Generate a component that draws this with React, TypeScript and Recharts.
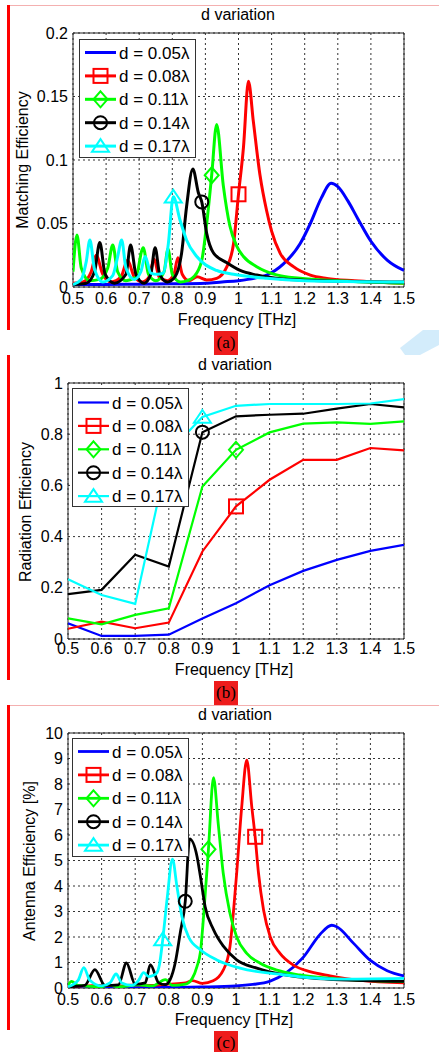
import React from 'react';
import { CartesianGrid, Legend, Line, LineChart, ReferenceArea, XAxis, YAxis } from 'recharts';

type Pt = [number, number];

const FONT = '"Liberation Sans", Arial, sans-serif';

const freqTicks = [0.5, 0.6, 0.7, 0.8, 0.9, 1.0, 1.1, 1.2, 1.3, 1.4, 1.5];
const seriesNames = ['d = 0.05λ', 'd = 0.08λ', 'd = 0.11λ', 'd = 0.14λ', 'd = 0.17λ'];
const seriesColors = ['#0000ff', '#ff0000', '#00ff00', '#000000', '#00ffff'];
const seriesShapes = ['none', 'square', 'diamond', 'circle', 'triangle'];

// (a) matching efficiency
const matchTicks = [0, 0.05, 0.1, 0.15, 0.2];
const match005: Pt[] = [[0.5,0.002],[0.6,0.002],[0.7,0.0022],[0.8,0.0025],[0.9,0.003],[0.95,0.004],[1.0,0.005],[1.05,0.007],[1.085,0.0094],[1.135,0.018],[1.186,0.034],[1.217,0.05],[1.25,0.07],[1.28,0.0816],[1.3,0.079],[1.33,0.068],[1.36,0.054],[1.4,0.036],[1.45,0.021],[1.5,0.013]];
const match008: Pt[] = [[0.5,0.003],[0.53,0.004],[0.555,0.012],[0.57,0.025],[0.59,0.01],[0.615,0.004],[0.645,0.008],[0.665,0.021],[0.685,0.008],[0.71,0.004],[0.73,0.008],[0.745,0.022],[0.76,0.008],[0.785,0.005],[0.805,0.01],[0.817,0.023],[0.83,0.01],[0.85,0.005],[0.875,0.008],[0.904,0.0055],[0.934,0.0068],[0.965,0.016],[0.985,0.034],[1.0,0.073],[1.015,0.11],[1.03,0.162],[1.045,0.13],[1.065,0.088],[1.085,0.06],[1.1,0.044],[1.126,0.0265],[1.166,0.016],[1.217,0.0094],[1.267,0.0068],[1.35,0.005],[1.5,0.003]];
const match011: Pt[] = [[0.5,0.012],[0.512,0.041],[0.525,0.015],[0.55,0.005],[0.58,0.006],[0.605,0.015],[0.62,0.033],[0.635,0.012],[0.66,0.005],[0.69,0.008],[0.712,0.031],[0.728,0.01],[0.75,0.005],[0.775,0.012],[0.787,0.03],[0.8,0.01],[0.825,0.004],[0.845,0.005],[0.865,0.008],[0.889,0.021],[0.904,0.05],[0.919,0.088],[0.934,0.128],[0.954,0.08],[0.974,0.048],[0.995,0.032],[1.015,0.024],[1.055,0.016],[1.115,0.0095],[1.186,0.0068],[1.3,0.005],[1.5,0.003]];
const match014: Pt[] = [[0.5,0.002],[0.54,0.003],[0.565,0.012],[0.581,0.035],[0.597,0.01],[0.625,0.003],[0.66,0.01],[0.674,0.033],[0.69,0.01],[0.715,0.003],[0.735,0.01],[0.748,0.031],[0.762,0.01],[0.785,0.004],[0.808,0.008],[0.828,0.0265],[0.843,0.063],[0.862,0.093],[0.879,0.074],[0.889,0.067],[0.904,0.042],[0.924,0.027],[0.965,0.019],[1.005,0.013],[1.055,0.0094],[1.135,0.0063],[1.25,0.005],[1.5,0.004]];
const match017: Pt[] = [[0.5,0.002],[0.525,0.006],[0.54,0.02],[0.551,0.037],[0.565,0.014],[0.59,0.004],[0.62,0.009],[0.635,0.024],[0.647,0.037],[0.66,0.015],[0.685,0.006],[0.705,0.012],[0.718,0.024],[0.735,0.011],[0.755,0.01],[0.773,0.011],[0.788,0.034],[0.803,0.071],[0.823,0.053],[0.843,0.037],[0.874,0.024],[0.934,0.013],[0.985,0.01],[1.085,0.0068],[1.2,0.005],[1.5,0.004]];
const matchMarks = [null, 1.0, 0.919, 0.889, 0.803];

// (b) radiation efficiency
const radTicks = [0, 0.2, 0.4, 0.6, 0.8, 1];
const radFreq = [0.5, 0.6, 0.7, 0.8, 0.9, 1.0, 1.1, 1.2, 1.3, 1.4, 1.5];
const rad005 = [0.061, 0.012, 0.012, 0.017, 0.08, 0.14, 0.21, 0.266, 0.309, 0.344, 0.368];
const rad008 = [0.04, 0.068, 0.042, 0.064, 0.342, 0.518, 0.622, 0.7, 0.7, 0.746, 0.737];
const rad011 = [0.081, 0.057, 0.094, 0.12, 0.596, 0.739, 0.807, 0.841, 0.846, 0.84, 0.85];
const rad014 = [0.175, 0.192, 0.329, 0.283, 0.808, 0.87, 0.876, 0.88, 0.9, 0.918, 0.905];
const rad017 = [0.233, 0.172, 0.137, 0.73, 0.867, 0.911, 0.918, 0.918, 0.918, 0.92, 0.937];
const radMarks = [null, 1.0, 1.0, 0.9, 0.9];

// (c) antenna efficiency [%]
const antTicks = [0, 1, 2, 3, 4, 5, 6, 7, 8, 9, 10];
const ant005: Pt[] = [[0.5,0.02],[0.6,0.02],[0.7,0.02],[0.8,0.025],[0.9,0.04],[1.0,0.08],[1.05,0.14],[1.1,0.26],[1.15,0.6],[1.2,1.2],[1.25,2.1],[1.285,2.46],[1.3,2.4],[1.35,1.75],[1.4,1.08],[1.45,0.68],[1.5,0.47]];
const ant008: Pt[] = [[0.5,0.05],[0.55,0.08],[0.6,0.1],[0.65,0.08],[0.7,0.12],[0.75,0.1],[0.8,0.15],[0.85,0.2],[0.87,0.29],[0.9,0.18],[0.932,0.28],[0.962,0.7],[0.982,1.62],[0.992,2.93],[1.002,4.5],[1.017,7.1],[1.032,8.94],[1.047,7.1],[1.057,5.93],[1.067,4.5],[1.082,3.06],[1.102,2.0],[1.131,1.36],[1.171,0.9],[1.22,0.64],[1.28,0.48],[1.37,0.3],[1.5,0.2]];
const ant011: Pt[] = [[0.5,0.1],[0.51,0.26],[0.53,0.1],[0.6,0.05],[0.62,0.12],[0.65,0.05],[0.71,0.12],[0.75,0.08],[0.79,0.33],[0.81,0.1],[0.85,0.15],[0.87,0.38],[0.884,0.85],[0.894,1.4],[0.904,2.9],[0.918,5.44],[0.933,8.25],[0.947,6.46],[0.962,4.5],[0.982,2.93],[1.002,2.0],[1.032,1.36],[1.072,0.97],[1.122,0.7],[1.19,0.51],[1.28,0.38],[1.5,0.25]];
const ant014: Pt[] = [[0.5,0.05],[0.55,0.1],[0.58,0.72],[0.61,0.1],[0.65,0.12],[0.674,0.98],[0.7,0.15],[0.73,0.2],[0.745,0.92],[0.77,0.2],[0.789,0.13],[0.804,0.33],[0.819,0.98],[0.834,2.16],[0.849,3.4],[0.862,5.85],[0.884,5.16],[0.894,4.38],[0.908,3.2],[0.933,2.29],[0.963,1.63],[1.002,1.1],[1.062,0.78],[1.141,0.52],[1.29,0.33],[1.5,0.26]];
const ant017: Pt[] = [[0.5,0.05],[0.53,0.3],[0.547,0.8],[0.565,0.3],[0.6,0.08],[0.625,0.2],[0.643,0.55],[0.66,0.2],[0.69,0.1],[0.71,0.3],[0.725,0.6],[0.74,0.45],[0.755,0.5],[0.765,0.6],[0.772,0.9],[0.782,1.9],[0.795,3.5],[0.811,5.05],[0.824,4.0],[0.839,2.8],[0.859,2.0],[0.894,1.5],[0.943,1.1],[1.012,0.78],[1.14,0.52],[1.3,0.35],[1.5,0.38]];
const antMarks = [null, 1.057, 0.918, 0.849, 0.782];

const toRows = (pts: Pt[]) => pts.map(([f, v]) => ({ f, v }));
const zipRows = (vals: number[]) => vals.map((v, i) => ({ f: radFreq[i], v }));

function Marker({ shape, x, y, color, size }: { shape: string; x: number; y: number; color: string; size: number }) {
  const s = size / 2;
  const common = { fill: 'none', stroke: color, strokeWidth: 2 };
  if (shape === 'square') return <rect x={x - s} y={y - s} width={size} height={size} {...common} />;
  if (shape === 'diamond') return <polygon points={`${x},${y - s - 1} ${x + s},${y} ${x},${y + s + 1} ${x - s},${y}`} {...common} />;
  if (shape === 'circle') return <circle cx={x} cy={y} r={s - 0.5} {...common} />;
  if (shape === 'triangle') return <polygon points={`${x},${y - s} ${x + s + 1.5},${y + s * 0.8} ${x - s - 1.5},${y + s * 0.8}`} {...common} />;
  return null;
}

function LegendBox({ lineWidth, rowTop }: { lineWidth: number; rowTop: number }) {
  return (
    <div style={{ width: 117, height: 119, border: '1px solid #333', background: '#fff', boxSizing: 'border-box' }}>
      <svg width={115} height={117} style={{ display: 'block' }}>
        {seriesNames.map((t, i) => {
          const y = rowTop + i * 23.4;
          return (
            <g key={t}>
              <line x1={5} x2={36} y1={y} y2={y} stroke={seriesColors[i]} strokeWidth={lineWidth} />
              <Marker shape={seriesShapes[i]} x={20.5} y={y} color={seriesColors[i]} size={14} />
              <text x={39} y={y} dy="0.36em" fontSize={17} fontFamily={FONT} fill="#000">{t}</text>
            </g>
          );
        })}
      </svg>
    </div>
  );
}

type PanelProps = {
  top: number;
  height: number;
  plot: { left: number; top: number; bottom: number };
  yMax: number;
  yTicks: number[];
  series: { f: number; v: number }[][];
  marks: (number | null)[];
  lineWidth: number;
  curve: 'monotone' | 'linear';
  xTickGap: number;
  legend: { left: number; top: number; rowTop: number };
};

function Panel(p: PanelProps) {
  const yAxisW = 60;
  const xAxisH = 30;
  const right = 404;
  const margin = { top: p.plot.top, right: 439 - right, left: p.plot.left - yAxisW, bottom: p.height - p.plot.bottom - xAxisH };
  const tickStyle = { fill: '#000', fontSize: 16, fontFamily: FONT };
  return (
    <div style={{ position: 'absolute', left: 0, top: p.top }}>
      <LineChart width={439} height={p.height} margin={margin}>
        <CartesianGrid stroke="#333" strokeDasharray="2 3" strokeWidth={1} />
        <XAxis dataKey="f" type="number" domain={[0.5, 1.5]} ticks={freqTicks} height={xAxisH} axisLine={false} tickLine={false}
          tickSize={0} tickMargin={p.xTickGap} tick={tickStyle} interval={0} allowDataOverflow
          tickFormatter={(v: number) => String(Math.round(v * 10) / 10)} />
        <YAxis type="number" domain={[0, p.yMax]} ticks={p.yTicks} width={yAxisW} axisLine={false} tickLine={false}
          tickSize={0} tickMargin={5} tick={tickStyle} interval={0} allowDataOverflow />
        <ReferenceArea x1={0.5} x2={1.5} y1={0} y2={p.yMax} fill="none" stroke="#222" strokeWidth={1} />
        {p.series.map((rows, i) => {
          const mark = p.marks[i];
          return (
            <Line key={seriesNames[i]} data={rows} dataKey="v" name={seriesNames[i]} type={p.curve}
              stroke={seriesColors[i]} strokeWidth={p.lineWidth} isAnimationActive={false} activeDot={false}
              dot={mark == null ? false : (d: any) => (
                d.payload.f === mark
                  ? <Marker key={`m${i}-${d.index}`} shape={seriesShapes[i]} x={d.cx} y={d.cy} color={seriesColors[i]} size={14} />
                  : <g key={`m${i}-${d.index}`} />
              )} />
          );
        })}
        <Legend layout="vertical" align="center" verticalAlign="middle"
          wrapperStyle={{ left: p.legend.left, top: p.legend.top, width: 117, height: 119 }}
          content={() => <LegendBox lineWidth={p.lineWidth} rowTop={p.legend.rowTop} />} />
      </LineChart>
    </div>
  );
}

function Txt({ x, y, text, rotate, size = 16, family = FONT }: { x: number; y: number; text: string; rotate?: boolean; size?: number; family?: string }) {
  return (
    <div style={{
      position: 'absolute', left: x, top: y, transform: `translate(-50%, -50%)${rotate ? ' rotate(-90deg)' : ''}`,
      fontFamily: family, fontSize: size, lineHeight: 1, whiteSpace: 'nowrap', color: '#000',
    }}>{text}</div>
  );
}

function Tag({ top, text }: { top: number; text: string }) {
  return (
    <div style={{ position: 'absolute', left: 214, top, width: 24, height: 24, background: '#ee1c1c', overflow: 'hidden' }}>
      <div style={{ fontFamily: '"Liberation Serif", "Times New Roman", serif', fontSize: 17, lineHeight: '24px', textAlign: 'center', color: '#000' }}>{text}</div>
    </div>
  );
}

export default function App() {
  return (
    <div style={{ position: 'absolute', left: 0, top: 0, width: 439, height: 1052, background: '#fff', overflow: 'hidden' }}>
      <div style={{ position: 'absolute', left: 10, top: 5, width: 429, height: 1, background: '#f4b0b0' }} />
      <div style={{ position: 'absolute', left: 10, top: 705, width: 429, height: 1, background: '#f4b0b0' }} />
      <div style={{ position: 'absolute', left: 7, top: 5, width: 3, height: 325, background: '#ff0000' }} />
      <div style={{ position: 'absolute', left: 7, top: 355, width: 3, height: 325, background: '#ff0000' }} />
      <div style={{ position: 'absolute', left: 7, top: 705, width: 3, height: 325, background: '#ff0000' }} />
      <svg style={{ position: 'absolute', left: 0, top: 0 }} width={439} height={360}>
        <polygon points="423,330 439,330 439,345 420,355 405,355 400,348" fill="#d3ecfb" />
      </svg>

      <Panel top={0} height={340} plot={{ left: 73, top: 33, bottom: 287 }} yMax={0.2} yTicks={matchTicks}
        series={[match005, match008, match011, match014, match017].map(toRows)} marks={matchMarks}
        lineWidth={3} curve="monotone" xTickGap={6} legend={{ left: 79, top: 39, rowTop: 12.5 }} />
      <Panel top={340} height={360} plot={{ left: 68, top: 43, bottom: 299 }} yMax={1} yTicks={radTicks}
        series={[rad005, rad008, rad011, rad014, rad017].map(zipRows)} marks={radMarks}
        lineWidth={2.2} curve="linear" xTickGap={4} legend={{ left: 72, top: 48, rowTop: 13.5 }} />
      <Panel top={700} height={352} plot={{ left: 68, top: 33, bottom: 288 }} yMax={10} yTicks={antTicks}
        series={[ant005, ant008, ant011, ant014, ant017].map(toRows)} marks={antMarks}
        lineWidth={2.8} curve="monotone" xTickGap={6} legend={{ left: 72, top: 38, rowTop: 12.5 }} />

      <Txt x={238} y={15.2} text="d variation" />
      <Txt x={237} y={319.5} text="Frequency [THz]" />
      <Txt x={23} y={160} text="Matching Efficiency" rotate />
      <Txt x={235} y={365.2} text="d variation" />
      <Txt x={234} y={669.5} text="Frequency [THz]" />
      <Txt x={25.5} y={512} text="Radiation Efficiency" rotate />
      <Txt x={235} y={715.2} text="d variation" />
      <Txt x={234} y={1019.5} text="Frequency [THz]" />
      <Txt x={29.5} y={861} text="Antenna Efficiency [%]" rotate />

      <Tag top={331} text="(a)" />
      <Tag top={681} text="(b)" />
      <Tag top={1031} text="(c)" />
    </div>
  );
}
